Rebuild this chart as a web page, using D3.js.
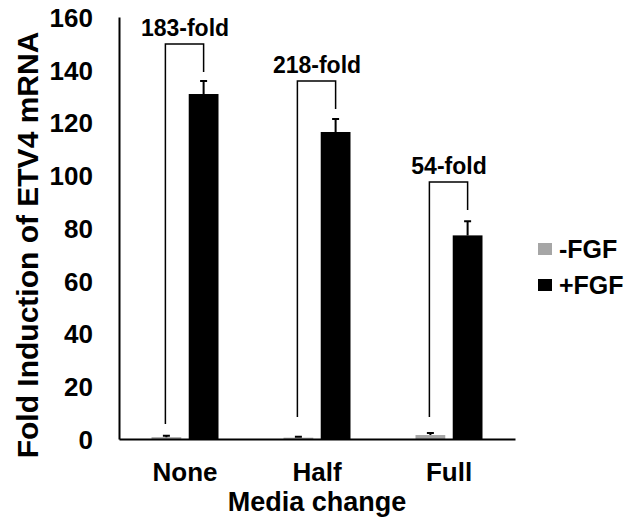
<!DOCTYPE html>
<html>
<head>
<meta charset="utf-8">
<script src="https://cdn.jsdelivr.net/npm/d3@7"></script>
<style>
	body { margin: 0; background: #fff; }
	svg text { font-family: "Liberation Sans", Arial, sans-serif; font-weight: bold; fill: #000; }
</style>
</head>
<body>
<div id="chart"></div>
<script>
const categories = ['None', 'Half', 'Full'];
const series = ['-FGF', '+FGF'];
const minusFgf = [0.7, 0.5, 1.5];
const minusFgfErr = [0.5, 0.4, 0.8];
const plusFgf = [130.8, 116.4, 77.2];
const plusFgfErr = [4.9, 4.9, 5.4];
const foldLabels = ['183-fold', '218-fold', '54-fold'];
const bracketTop = [149.8, 135.7, 97.4];
const bracketLeftEnd = [5.7, 8.3, 8.3];
const bracketRightEnd = [139.1, 125.1, 86.8];
const yTicks = [0, 20, 40, 60, 80, 100, 120, 140, 160];

const colors = { '-FGF': '#a6a6a6', '+FGF': '#000000' };

const width = 642, height = 527;
const plot = { left: 119, right: 515, top: 17, bottom: 439 };

const scale = {
	cats: d3.scaleBand().domain(categories).range([plot.left, plot.right]),
	series: d3.scaleBand().domain(series).paddingInner(0.2),
	vals: d3.scaleLinear().domain([0, 160]).range([plot.bottom, plot.top])
};
// pair of bars ~67px wide centered in each category
const pairWidth = 67;
scale.series.range([0, pairWidth]);
const barX = (cat, s) => scale.cats(cat) + (scale.cats.bandwidth() - pairWidth) / 2 + scale.series(s);
const barCenter = (cat, s) => barX(cat, s) + scale.series.bandwidth() / 2;

const data = categories.map((c, i) => ({
	cat: c,
	bars: [
		{ s: '-FGF', v: minusFgf[i], e: minusFgfErr[i] },
		{ s: '+FGF', v: plusFgf[i], e: plusFgfErr[i] }
	],
	label: foldLabels[i],
	top: bracketTop[i],
	leftEnd: bracketLeftEnd[i],
	rightEnd: bracketRightEnd[i]
}));

const $svg = d3.select('#chart').append('svg')
	.attr('width', width)
	.attr('height', height);

// bars
const $groups = $svg.selectAll('.cat')
	.data(data)
	.enter().append('g')
	.attr('class', 'cat');

$groups.selectAll('rect')
	.data((d) => d.bars.map((b) => Object.assign({ cat: d.cat }, b)))
	.enter().append('rect')
	.attr('x', (d) => barX(d.cat, d.s))
	.attr('width', scale.series.bandwidth())
	.attr('y', (d) => scale.vals(d.v))
	.attr('height', (d) => scale.vals(0) - scale.vals(d.v))
	.attr('fill', (d) => colors[d.s]);

// error bars
const capHalf = 3.5;
$groups.selectAll('.err')
	.data((d) => d.bars.map((b) => Object.assign({ cat: d.cat }, b)))
	.enter().append('path')
	.attr('class', 'err')
	.attr('d', (d) => {
		const x = barCenter(d.cat, d.s);
		const y0 = scale.vals(d.v), y1 = scale.vals(d.v + d.e);
		return `M${x},${y0}V${y1}M${x - capHalf},${y1}H${x + capHalf}`;
	})
	.attr('stroke', '#000')
	.attr('stroke-width', 2)
	.attr('fill', 'none');

// brackets
$groups.append('path')
	.attr('d', (d) => {
		const xl = barCenter(d.cat, '-FGF') - 1;
		const xr = barCenter(d.cat, '+FGF');
		return `M${xl},${scale.vals(d.leftEnd)}V${scale.vals(d.top)}H${xr}V${scale.vals(d.rightEnd)}`;
	})
	.attr('stroke', '#000')
	.attr('stroke-width', 1.5)
	.attr('fill', 'none');

$groups.append('text')
	.attr('x', (d) => (barCenter(d.cat, '-FGF') + barCenter(d.cat, '+FGF')) / 2)
	.attr('y', (d) => scale.vals(d.top) - 8)
	.attr('text-anchor', 'middle')
	.style('font-size', '23px')
	.text((d) => d.label);

// y axis
const yAxis = d3.axisLeft(scale.vals).tickValues(yTicks).tickSize(0).tickPadding(26);
const $y = $svg.append('g')
	.attr('transform', `translate(${plot.left},0)`)
	.call(yAxis);
$y.select('.domain').attr('stroke', '#000').attr('stroke-width', 2);
$y.selectAll('text').style('font-size', '26px').attr('dy', '0.36em');

// x axis
const xAxis = d3.axisBottom(scale.cats).tickSize(0).tickPadding(24);
const $x = $svg.append('g')
	.attr('transform', `translate(0,${plot.bottom})`)
	.call(xAxis);
$x.select('.domain').attr('stroke', '#000').attr('stroke-width', 2);
$x.selectAll('text').style('font-size', '26px').attr('dy', '0.71em');

// axis titles
$svg.append('text')
	.attr('transform', 'translate(38,245) rotate(-90)')
	.attr('text-anchor', 'middle')
	.style('font-size', '30px')
	.text('Fold Induction of ETV4 mRNA');

$svg.append('text')
	.attr('x', (plot.left + plot.right) / 2)
	.attr('y', 511)
	.attr('text-anchor', 'middle')
	.style('font-size', '27px')
	.text('Media change');

// legend
const $legend = $svg.append('g')
	.selectAll('g')
	.data(series)
	.enter().append('g')
	.attr('transform', (d, i) => `translate(538,${243 + i * 36})`);

$legend.append('rect')
	.attr('width', 14)
	.attr('height', 12)
	.attr('fill', (d) => colors[d]);

$legend.append('text')
	.attr('x', 21)
	.attr('y', 6)
	.attr('dy', '0.36em')
	.style('font-size', '25px')
	.text((d) => d);
</script>
</body>
</html>
